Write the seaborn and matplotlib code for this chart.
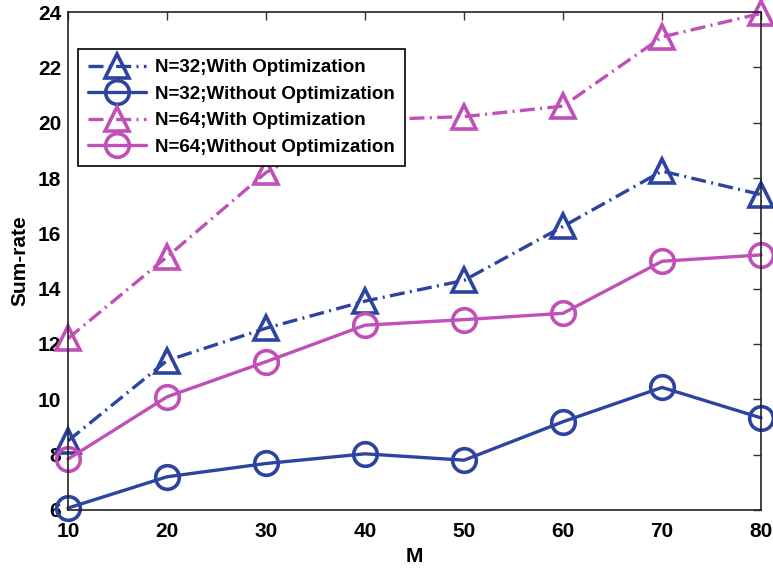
import numpy as np
import pandas as pd
import matplotlib
matplotlib.use("Agg")
import matplotlib.pyplot as plt
import seaborn as sns

M = [10, 20, 30, 40, 50, 60, 70, 80]
n32_with = [8.5, 11.4, 12.57, 13.55, 14.3, 16.25, 18.25, 17.4]
n32_without = [6.07, 7.2, 7.68, 8.03, 7.8, 9.19, 10.43, 9.33]
n64_with = [12.2, 15.15, 18.2, 20.1, 20.22, 20.6, 23.1, 23.95]
n64_without = [7.84, 10.09, 11.36, 12.68, 12.88, 13.11, 14.99, 15.22]

labels = ["N=32;With Optimization", "N=32;Without Optimization",
          "N=64;With Optimization", "N=64;Without Optimization"]

blue = "#2d43a0"
magenta = "#c04fb8"
dashdot = (0, (4.5, 1.6, 0.6, 1.6))

sns.set_style("white")
plt.rcParams['font.family'] = ['Liberation Sans', 'DejaVu Sans']
plt.rcParams['font.weight'] = 'bold'
plt.rcParams['xtick.direction'] = 'in'
plt.rcParams['ytick.direction'] = 'in'
plt.rcParams['text.color'] = 'black'
plt.rcParams['axes.labelcolor'] = 'black'
plt.rcParams['xtick.labelcolor'] = 'black'
plt.rcParams['ytick.labelcolor'] = 'black'

fig = plt.figure(figsize=(7.73, 5.73), dpi=100)
ax = fig.add_axes([0.088, 0.11, 0.8965, 0.869])

series = [
    (n32_with, blue, '^', dashdot),
    (n32_without, blue, 'o', '-'),
    (n64_with, magenta, '^', dashdot),
    (n64_without, magenta, 'o', '-'),
]
for (vals, col, mk, ls), lab in zip(series, labels):
    sns.lineplot(x=M, y=vals, ax=ax, color=col, marker=mk, linestyle=ls,
                 linewidth=2.4, markersize=17,
                 markerfacecolor='none', markeredgecolor=col,
                 markeredgewidth=2.6, label=lab, clip_on=False)

ax.set_xlim(10, 80)
ax.set_ylim(6, 24)
ax.set_xticks(range(10, 81, 10))
ax.set_yticks(range(6, 25, 2))
ax.tick_params(axis='both', which='both', top=True, right=True,
               labelsize=15, length=6, width=1, color='#333333', pad=5)
ax.tick_params(axis='x', pad=9)
for lab in ax.get_xticklabels() + ax.get_yticklabels():
    lab.set_fontweight('bold')
for sp in ax.spines.values():
    sp.set_color('#222222')
    sp.set_linewidth(1.2)

ax.set_xlabel("M", fontsize=15, fontweight='bold', labelpad=4)
ax.set_ylabel("Sum-rate", fontsize=15, fontweight='bold', labelpad=6)

leg = ax.legend(loc='upper left', bbox_to_anchor=(0.0144, 0.926),
                fontsize=13.5, handlelength=3.1, frameon=True, fancybox=False,
                framealpha=1, facecolor='white',
                edgecolor='black', borderpad=0.55, labelspacing=0.5,
                handletextpad=0.45, borderaxespad=0)
leg.get_frame().set_linewidth(1.2)
for t in leg.get_texts():
    t.set_fontweight('bold')

fig.savefig("out.png", dpi=100)
